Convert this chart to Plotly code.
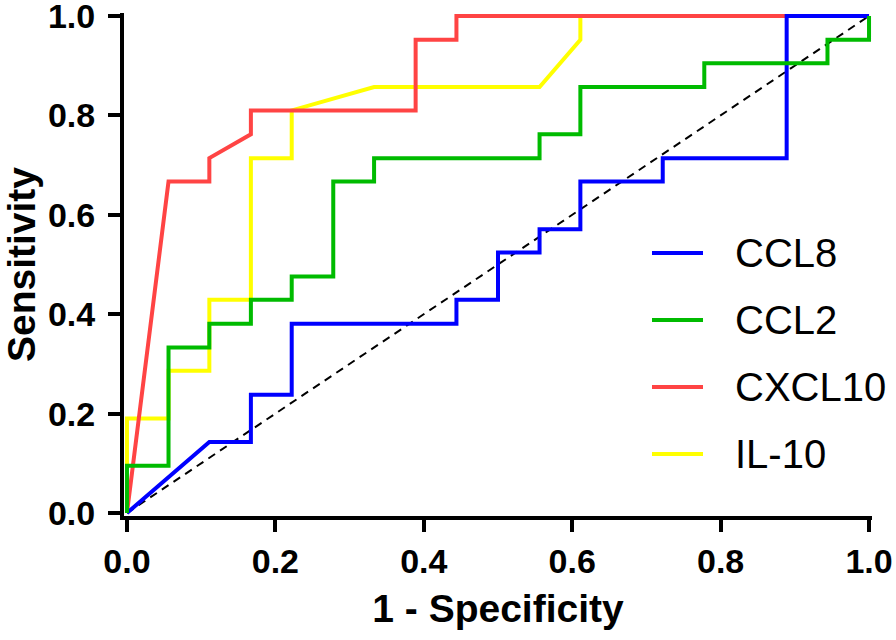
import plotly.graph_objects as go

# ---- data ----
ccl8_x = [0, 0.111, 0.167, 0.167, 0.222, 0.222, 0.444, 0.444, 0.5, 0.5, 0.556, 0.556,
          0.611, 0.611, 0.722, 0.722, 0.889, 0.889, 1.0]
ccl8_y = [0, 0.143, 0.143, 0.238, 0.238, 0.381, 0.381, 0.429, 0.429, 0.524, 0.524, 0.571,
          0.571, 0.667, 0.667, 0.714, 0.714, 1.0, 1.0]

ccl2_x = [0, 0, 0.056, 0.056, 0.111, 0.111, 0.167, 0.167, 0.222, 0.222, 0.278, 0.278,
          0.333, 0.333, 0.556, 0.556, 0.611, 0.611, 0.778, 0.778, 0.944, 0.944, 1.0, 1.0]
ccl2_y = [0, 0.095, 0.095, 0.333, 0.333, 0.381, 0.381, 0.429, 0.429, 0.476, 0.476, 0.667,
          0.667, 0.714, 0.714, 0.762, 0.762, 0.857, 0.857, 0.905, 0.905, 0.952, 0.952, 1.0]

cxcl10_x = [0, 0.056, 0.111, 0.111, 0.167, 0.167, 0.389, 0.389, 0.444, 0.444, 1.0]
cxcl10_y = [0, 0.667, 0.667, 0.714, 0.762, 0.810, 0.810, 0.952, 0.952, 1.0, 1.0]

il10_x = [0, 0, 0.056, 0.056, 0.111, 0.111, 0.167, 0.167, 0.222, 0.222, 0.333, 0.556,
          0.611, 0.611, 1.0]
il10_y = [0, 0.190, 0.190, 0.286, 0.286, 0.429, 0.429, 0.714, 0.714, 0.810, 0.857, 0.857,
          0.952, 1.0, 1.0]

ref_x = [0, 1]
ref_y = [0, 1]

series_names = ["CCL8", "CCL2", "CXCL10", "IL-10"]
tick_vals = [0.0, 0.2, 0.4, 0.6, 0.8, 1.0]
tick_text = ["0.0", "0.2", "0.4", "0.6", "0.8", "1.0"]

colors = {"CCL8": "#0000FF", "CCL2": "#00BB00", "CXCL10": "#FF4444", "IL-10": "#FFFF00"}
FONT = "Liberation Sans, Arial, Helvetica, sans-serif"

W, H = 896, 640
ML, MR, MT, MB = 124, 24, 13, 124
PW, PH = W - ML - MR, H - MT - MB


def px_x(px):
    return (px - ML) / PW


def px_y(py):
    return 1 - (py - MT) / PH


fig = go.Figure()
fig.add_trace(go.Scatter(x=ref_x, y=ref_y, mode="lines", showlegend=False,
                         line=dict(color="black", width=2, dash="8px,6px"), hoverinfo="skip"))

data = {
    "CCL8": (ccl8_x, ccl8_y),
    "CCL2": (ccl2_x, ccl2_y),
    "CXCL10": (cxcl10_x, cxcl10_y),
    "IL-10": (il10_x, il10_y),
}
# drawing order (bottom->top) as in the reference
for name in ["IL-10", "CXCL10", "CCL8", "CCL2"]:
    xs, ys = data[name]
    fig.add_trace(go.Scatter(
        x=xs, y=ys, mode="lines", name=name, showlegend=False,
        line=dict(color=colors[name], width=4),
    ))

# legend drawn as layout items (line sample + label), in reference order
for i, name in enumerate(series_names):
    cy = px_y(253 + 67 * i)
    fig.add_shape(type="line", xref="paper", yref="paper",
                  x0=px_x(652), x1=px_x(703), y0=cy, y1=cy,
                  line=dict(color=colors[name], width=4))
    fig.add_annotation(xref="paper", yref="paper", x=px_x(733), y=cy,
                       xanchor="left", yanchor="middle", showarrow=False,
                       text=name, font=dict(family=FONT, size=40, color="black"))

axis_common = dict(
    showline=True, linecolor="black", linewidth=4,
    ticks="outside", ticklen=12, tickwidth=4, tickcolor="black",
    tickvals=tick_vals, ticktext=tick_text,
    tickfont=dict(family=FONT, size=34, color="black", weight="bold"),
    showgrid=False, zeroline=False, layer="below traces", automargin=False,
    ticklabeloverflow="allow",
)

fig.update_xaxes(range=[-0.004, 1.004], **axis_common,
                 title=dict(text="1 - Specificity", standoff=17,
                            font=dict(family=FONT, size=39, color="black", weight="bold")))
fig.update_yaxes(range=[-0.006, 1.006], **axis_common, ticklabelstandoff=6,
                 title=dict(text="Sensitivity", standoff=6,
                            font=dict(family=FONT, size=39, color="black", weight="bold")))

fig.update_layout(
    width=W, height=H,
    margin=dict(l=ML, r=MR, t=MT, b=MB),
    paper_bgcolor="white", plot_bgcolor="white",
    font=dict(family=FONT, color="black"),
    showlegend=False,
)

# remove the browser's default 8px body margin so the figure sits at the page origin
fig.write_html("out.html", config={"displayModeBar": False},
               post_script="document.body.style.margin='0';document.body.style.overflow='hidden';")
